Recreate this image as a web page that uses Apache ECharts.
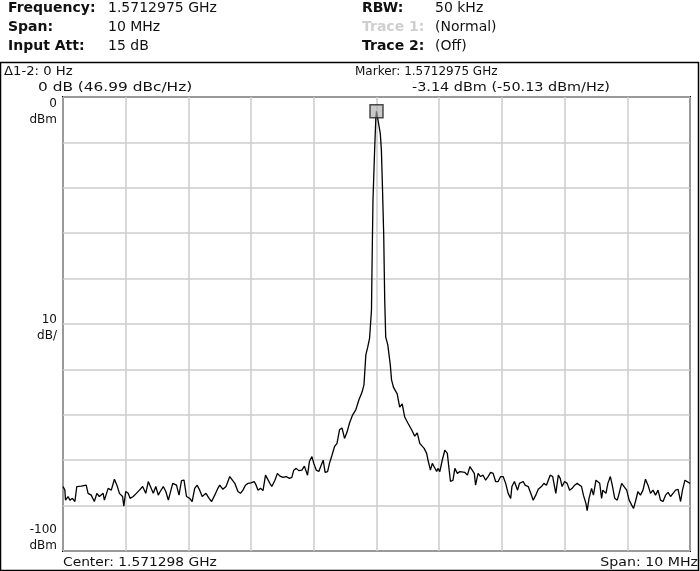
<!DOCTYPE html>
<html>
<head>
<meta charset="utf-8">
<script src="https://cdn.jsdelivr.net/npm/echarts@6/dist/echarts.min.js"></script>
<style>html,body{margin:0;padding:0;background:#fff;}#c{width:700px;height:571px;}</style>
</head>
<body>
<div id="c"></div>
<script>
// Frequency offset from center (MHz)
var freqOffsetMHz = [
-5.00,-4.97,-4.96,-4.92,-4.89,-4.85,-4.81,-4.78,-4.71,-4.63,-4.60,-4.55,-4.50,-4.46,-4.42,-4.36,-4.34,-4.28,-4.23,-4.18,
-4.14,-4.10,-4.05,-4.03,-4.00,-3.96,-3.93,-3.88,-3.83,-3.78,-3.73,-3.68,-3.64,-3.61,-3.56,-3.52,-3.48,-3.45,-3.40,-3.36,
-3.32,-3.29,-3.25,-3.19,-3.15,-3.11,-3.07,-3.03,-2.98,-2.94,-2.90,-2.86,-2.82,-2.78,-2.72,-2.67,-2.63,-2.58,-2.53,-2.50,
-2.49,-2.45,-2.40,-2.34,-2.31,-2.26,-2.21,-2.17,-2.13,-2.09,-2.05,-2.00,-1.95,-1.92,-1.89,-1.85,-1.81,-1.77,-1.74,-1.70,
-1.67,-1.62,-1.58,-1.54,-1.49,-1.44,-1.39,-1.35,-1.32,-1.28,-1.24,-1.19,-1.15,-1.10,-1.07,-1.03,-1.00,-0.96,-0.92,-0.89,
-0.85,-0.82,-0.78,-0.75,-0.71,-0.67,-0.63,-0.59,-0.55,-0.51,-0.47,-0.43,-0.38,-0.33,-0.28,-0.23,-0.20,-0.17,-0.14,-0.11,
-0.08,-0.07,-0.056,-0.03,-0.01,0.00,0.02,0.06,0.078,0.094,0.115,0.131,0.147,0.18,0.22,0.24,0.27,0.33,0.37,0.41,
0.45,0.50,0.56,0.61,0.65,0.69,0.76,0.80,0.82,0.86,0.89,0.92,0.96,0.98,1.01,1.05,1.09,1.13,1.15,1.18,
1.22,1.25,1.29,1.33,1.36,1.41,1.45,1.49,1.52,1.56,1.58,1.62,1.66,1.70,1.74,1.78,1.82,1.86,1.90,1.94,
1.98,2.02,2.06,2.10,2.14,2.16,2.20,2.25,2.28,2.34,2.37,2.42,2.46,2.50,2.54,2.58,2.63,2.67,2.71,2.74,
2.77,2.81,2.83,2.86,2.90,2.93,2.96,3.00,3.04,3.08,3.12,3.16,3.20,3.23,3.27,3.30,3.34,3.36,3.39,3.43,
3.46,3.50,3.53,3.56,3.59,3.61,3.66,3.69,3.73,3.76,3.80,3.84,3.87,3.91,3.94,3.99,4.03,4.07,4.10,4.13,
4.17,4.21,4.25,4.29,4.33,4.37,4.41,4.45,4.49,4.53,4.57,4.61,4.65,4.69,4.73,4.77,4.81,4.85,4.88,4.92,
4.94,5.00
];
// Trace level (dBm)
var levelDbm = [
-85.8,-86.6,-88.8,-88.0,-88.8,-88.4,-89.1,-85.8,-85.7,-85.5,-87.3,-87.7,-89.1,-87.3,-88.0,-87.3,-88.8,-86.2,-86.6,-84.2,
-85.5,-87.3,-88.0,-90.1,-86.9,-87.3,-88.4,-88.0,-87.3,-86.6,-85.8,-87.3,-84.7,-85.1,-87.3,-85.8,-87.7,-86.9,-85.8,-86.9,
-88.8,-89.1,-85.1,-85.5,-87.7,-84.5,-84.4,-88.0,-88.4,-89.1,-86.2,-85.5,-86.6,-88.0,-87.3,-88.4,-89.1,-87.7,-86.2,-85.5,
-85.1,-86.4,-85.8,-83.6,-83.5,-85.1,-86.9,-87.3,-86.6,-85.5,-85.1,-85.0,-84.7,-85.5,-86.6,-86.2,-86.7,-83.3,-82.9,-85.1,
-85.8,-84.4,-82.9,-83.5,-83.8,-83.6,-84.0,-83.8,-82.2,-81.8,-82.3,-82.2,-81.3,-83.3,-80.3,-79.2,-80.7,-82.2,-82.5,-81.4,
-80.0,-82.7,-82.5,-80.7,-78.9,-77.0,-76.3,-73.3,-72.9,-75.2,-73.8,-71.8,-70.0,-68.9,-66.7,-65.0,-63.4,-56.8,-55.1,-53.1,
-46.9,-35.9,-22.7,-11.7,-4.5,-3.14,-3.3,-8.0,-11.7,-19.4,-30.4,-44.7,-52.9,-54.6,-59.0,-62.3,-63.9,-65.4,-68.3,-67.6,
-70.5,-71.8,-73.3,-74.7,-74.0,-76.3,-77.4,-78.5,-79.9,-82.2,-80.7,-81.1,-82.5,-81.8,-82.5,-79.9,-77.8,-78.5,-81.1,-84.7,
-84.4,-81.8,-82.9,-82.5,-82.9,-82.7,-83.3,-81.4,-81.1,-82.9,-85.5,-82.9,-83.6,-83.3,-84.4,-83.6,-82.7,-82.9,-84.7,-84.7,
-83.6,-83.6,-85.1,-87.3,-88.4,-85.8,-84.7,-86.6,-85.1,-84.7,-85.5,-85.8,-87.3,-88.8,-87.7,-86.4,-85.8,-85.1,-85.5,-84.4,
-83.3,-83.6,-85.1,-87.3,-83.3,-84.0,-85.8,-84.7,-85.1,-86.6,-86.2,-85.5,-85.1,-84.7,-85.8,-87.7,-89.5,-91.1,-88.4,-86.2,
-87.7,-84.4,-84.0,-85.1,-88.4,-86.6,-87.3,-85.1,-83.6,-85.5,-88.4,-88.8,-87.3,-85.1,-84.7,-86.6,-88.8,-89.9,-90.6,-89.1,
-86.9,-87.7,-86.6,-84.2,-85.5,-87.3,-86.6,-87.7,-86.6,-88.8,-89.1,-87.7,-87.1,-88.0,-87.3,-86.6,-86.4,-89.1,-86.6,-84.4,
-84.2,-85.1
];
var markerOffsetMHz = [0.0];
var markerDbm = [-3.14];
var yTickLabels = [["0", "dBm"], ["10", "dB/"], ["-100", "dBm"]];

var traceData = freqOffsetMHz.map(function (f, i) { return [f, levelDbm[i]]; });
var markerData = markerOffsetMHz.map(function (f, i) { return [f, markerDbm[i]]; });

var FONT = 'DejaVu Sans';
var chart = echarts.init(document.getElementById('c'), null, { renderer: 'canvas' });

function txt(x, y, s, opt) {
  opt = opt || {};
  return {
    type: 'text', x: x, y: y, scaleX: opt.sx || 1, scaleY: 1,
    style: {
      text: s, fill: opt.fill || '#111',
      font: (opt.bold ? 'bold ' : '') + (opt.size || 14) + 'px "' + FONT + '"',
      align: opt.align || 'left', textAlign: opt.align || 'left',
      verticalAlign: 'top', textVerticalAlign: 'top'
    },
    z: 10
  };
}

var graphics = [
  { type: 'rect', shape: { x: 0.5, y: 62.5, width: 698, height: 508 }, style: { fill: 'none', stroke: '#000', lineWidth: 1.5 }, z: 10 },
  txt(8, 1, 'Frequency:', { bold: true }),
  txt(108, 1, '1.5712975 GHz'),
  txt(8, 20, 'Span:', { bold: true }),
  txt(108, 20, '10 MHz'),
  txt(8, 39, 'Input Att:', { bold: true }),
  txt(108, 39, '15 dB'),
  txt(362, 1, 'RBW:', { bold: true }),
  txt(435, 1, '50 kHz'),
  txt(362, 20, 'Trace 1:', { bold: true, fill: '#cfcfcf' }),
  txt(435, 20, '(Normal)'),
  txt(362, 39, 'Trace 2:', { bold: true }),
  txt(435, 39, '(Off)'),
  txt(4, 66, '\u03941-2: 0 Hz', { size: 12, sx: 1.1 }),
  txt(38, 82, '0 dB (46.99 dBc/Hz)', { size: 12, sx: 1.28 }),
  txt(355, 66, 'Marker: 1.5712975 GHz', { size: 12 }),
  txt(412, 82, '-3.14 dBm (-50.13 dBm/Hz)', { size: 12, sx: 1.2 }),
  txt(63, 557, 'Center: 1.571298 GHz', { size: 12, sx: 1.15 }),
  txt(698, 557, 'Span: 10 MHz', { size: 12, sx: 1.18, align: 'right' })
];
var yLabelTops = [98, 314, 524];
yTickLabels.forEach(function (lab, i) {
  graphics.push(txt(57, yLabelTops[i], lab[0], { size: 12, align: 'right' }));
  graphics.push(txt(57, yLabelTops[i] + 16, lab[1], { size: 12, align: 'right' }));
});

chart.setOption({
  animation: false,
  backgroundColor: '#fff',
  grid: { left: 63, right: 10, top: 97, bottom: 20, show: true, borderColor: '#000', borderWidth: 2, backgroundColor: 'transparent' },
  xAxis: {
    type: 'value', min: -5, max: 5, interval: 1,
    axisLine: { show: false }, axisTick: { show: false }, axisLabel: { show: false },
    splitLine: { show: true, lineStyle: { color: '#cdcdcd', width: 1.5 } }
  },
  yAxis: {
    type: 'value', min: -100, max: 0, interval: 10,
    axisLine: { show: false }, axisTick: { show: false }, axisLabel: { show: false },
    splitLine: { show: true, lineStyle: { color: '#cdcdcd', width: 1.5 } }
  },
  series: [
    {
      type: 'line', data: traceData, showSymbol: false, symbol: 'none',
      lineStyle: { color: '#000', width: 1.3 }, z: 3
    },
    {
      type: 'scatter', data: markerData, symbol: 'rect', symbolSize: 13,
      itemStyle: { color: 'rgba(170,170,170,0.8)', borderColor: '#222', borderWidth: 1.5 }, z: 4
    }
  ],
  graphic: graphics
});
</script>
</body>
</html>
